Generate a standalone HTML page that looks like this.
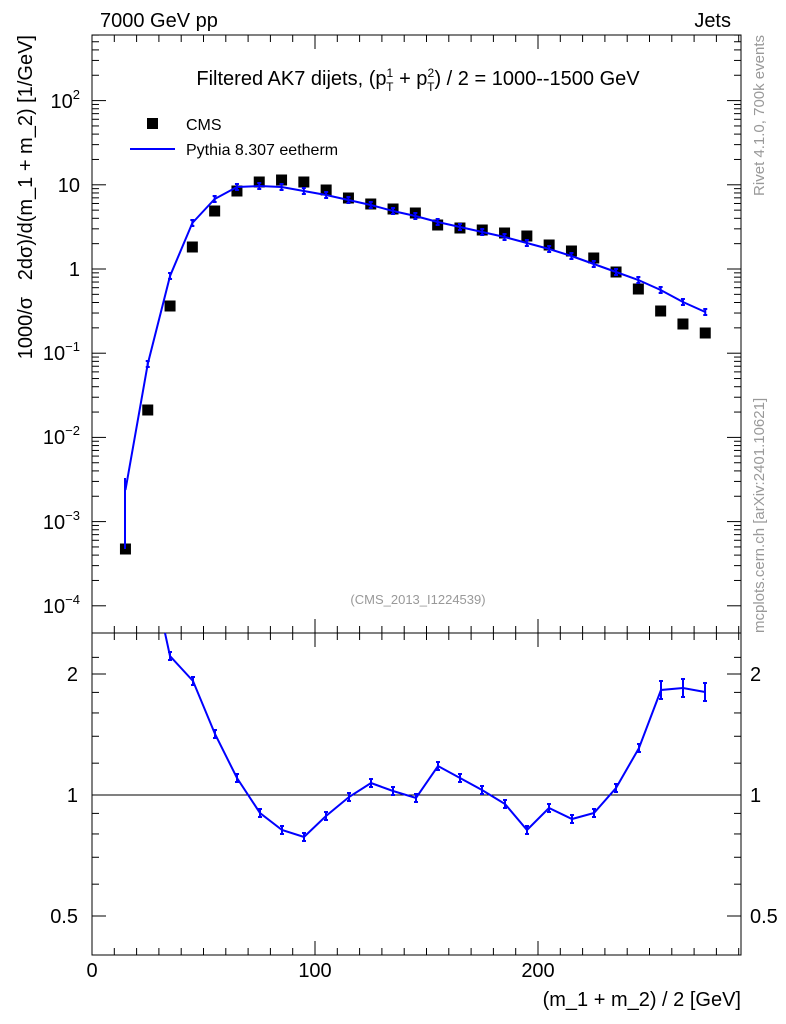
<!DOCTYPE html>
<html><head><meta charset="utf-8"><style>
html,body{margin:0;background:#fff;overflow:hidden;width:786px;height:1024px}
svg{display:block}
svg text{font-family:"Liberation Sans",sans-serif}
</style></head><body>
<svg id="s" width="786" height="1024" xmlns="http://www.w3.org/2000/svg">
<rect width="786" height="1024" fill="#fff"/>
<g fill="none" stroke="#000" stroke-width="1">
<rect x="92" y="35" width="649" height="598"/>
<rect x="92" y="633" width="649" height="322"/>
<line x1="92" y1="795" x2="741" y2="795"/>
</g>
<g id="ticks" stroke="#000" stroke-width="1"></g>
<text x="100" y="27" font-size="20">7000 GeV pp</text>
<text x="731" y="27" font-size="20" text-anchor="end">Jets</text>
<text x="418" y="85" font-size="20" text-anchor="middle">Filtered AK7 dijets, (p<tspan font-size="12" dy="-8">1</tspan><tspan font-size="12" dx="-7" dy="14">T</tspan><tspan dy="-6"> + p</tspan><tspan font-size="12" dy="-8">2</tspan><tspan font-size="12" dx="-7" dy="14">T</tspan><tspan dy="-6">) / 2 = 1000--1500 GeV</tspan></text>
<rect x="147" y="118" width="11" height="11" fill="#000"/>
<text x="186" y="130" font-size="16">CMS</text>
<line x1="130" y1="149" x2="175" y2="149" stroke="#00f" stroke-width="2"/>
<text x="186" y="155" font-size="16">Pythia 8.307 eetherm</text>
<text x="418" y="604" font-size="13" fill="#999" text-anchor="middle">(CMS_2013_I1224539)</text>
<g font-size="20" text-anchor="end">
<text x="80" y="108">10<tspan font-size="13" dy="-9">2</tspan></text>
<text x="80" y="192">10</text>
<text x="80" y="276">1</text>
<text x="80" y="360">10<tspan font-size="13" dy="-9">−1</tspan></text>
<text x="80" y="444">10<tspan font-size="13" dy="-9">−2</tspan></text>
<text x="80" y="529">10<tspan font-size="13" dy="-9">−3</tspan></text>
<text x="80" y="613">10<tspan font-size="13" dy="-9">−4</tspan></text>
<text x="78" y="681">2</text><text x="78" y="802">1</text><text x="78" y="923">0.5</text>
</g>
<g font-size="20"><text x="750" y="681">2</text><text x="750" y="802">1</text><text x="750" y="923">0.5</text></g>
<g font-size="20" text-anchor="middle"><text x="92" y="977">0</text><text x="315" y="977">100</text><text x="538" y="977">200</text></g>
<text x="741" y="1006" font-size="20" text-anchor="end">(m_1 + m_2) / 2 [GeV]</text>
<text transform="translate(32,35) rotate(-90)" font-size="20" text-anchor="end" xml:space="preserve">1000/σ   2dσ)/d(m_1 + m_2) [1/GeV]</text>
<text transform="translate(36,955) rotate(-90)" font-size="14" text-anchor="end" x="-75">Ratio to CMS</text>
<text transform="translate(764,35) rotate(-90)" font-size="15" fill="#999" text-anchor="end">Rivet 4.1.0,  700k events</text>
<text transform="translate(764,633) rotate(-90)" font-size="15" fill="#999">mcplots.cern.ch [arXiv:2401.10621]</text>
<g id="data" fill="#000"></g>
<polyline id="mc" fill="none" stroke="#00f" stroke-width="2"/>
<polyline id="rt" fill="none" stroke="#00f" stroke-width="2"/>
<g id="eb" stroke="#00f" stroke-width="2"></g>
</svg>
<script>
const ns="http://www.w3.org/2000/svg";
function ln(g,x1,y1,x2,y2){const l=document.createElementNS(ns,"line");l.setAttribute("x1",x1);l.setAttribute("y1",y1);l.setAttribute("x2",x2);l.setAttribute("y2",y2);document.getElementById(g).appendChild(l);}
for(let v=0;v<=290;v+=10){const x=92+2.23*v;const L=v%100==0?14:7;ln("ticks",x,633,x,633-L);ln("ticks",x,35,x,35+L);ln("ticks",x,955,x,955-L);ln("ticks",x,633,x,633+L);}
for(let d=-4;d<=2;d++){for(let m=1;m<10;m++){const y=269-84.2*(d+Math.log10(m));if(y<35)continue;const L=m==1?14:7;ln("ticks",92,y,92+L,y);ln("ticks",741,y,741-L,y);}}
[0.5,0.6,0.7,0.8,0.9,1,1.2,1.4,1.6,1.8,2,2.2].forEach(r=>{const y=795-121*Math.log2(r);if(y<633)return;const L=(r==0.5||r==1||r==2)?14:7;ln("ticks",92,y,92+L,y);ln("ticks",741,y,741-L,y);});
const cms=[549,410,306,247,211,191,182,180,182,190,198,204,209,213,225,228,230,233,236,245,251,258,272,289,311,324,333];
const g=document.getElementById("data");
cms.forEach((y,i)=>{const x=92+2.23*(15+10*i);const r=document.createElementNS(ns,"rect");r.setAttribute("x",x-5.5);r.setAttribute("y",y-5.5);r.setAttribute("width",11);r.setAttribute("height",11);g.appendChild(r);});
const mc=[490,364,276,223,199,187,186,187,191,195,200,205,211,216,222,227,232,237,243,249,256,264,272,280,290,302,312];
document.getElementById("mc").setAttribute("points",mc.map((y,i)=>(92+2.23*(15+10*i))+","+y).join(" "));
mc.forEach((y,i)=>{if(i==0)return;const x=92+2.23*(15+10*i);ln("eb",x,y-3,x,y+3);ln("eb",x-2,y-3,x+2,y-3);ln("eb",x-2,y+3,x+2,y+3);});
ln("eb",125,478,125,549);
const rt=[[165,633],[170,656],[193,681],[215,734],[237,778],[260,813],[282,830],[304,837],[326,816],[349,797],[371,783],[393,791],[416,798],[438,766],[460,778],[482,790],[505,804],[527,830],[549,808],[572,819],[594,813],[616,788],[639,748],[661,690],[683,688],[705,692]];
document.getElementById("rt").setAttribute("points",rt.map(p=>p.join(",")).join(" "));
rt.slice(1).forEach(p=>{const e=p[0]>650?9:4;ln("eb",p[0],p[1]-e,p[0],p[1]+e);ln("eb",p[0]-2,p[1]-e,p[0]+2,p[1]-e);ln("eb",p[0]-2,p[1]+e,p[0]+2,p[1]+e);});
</script>
</body></html>
